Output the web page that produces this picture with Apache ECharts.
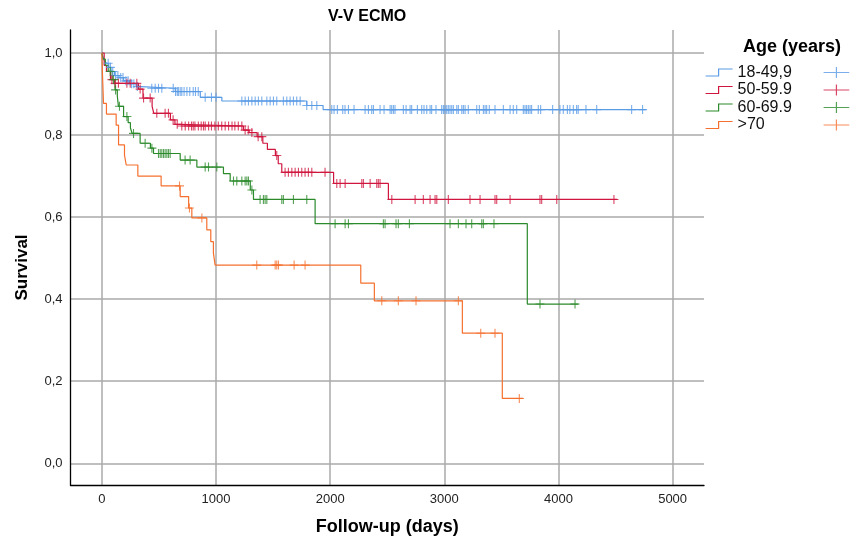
<!DOCTYPE html>
<html>
<head>
<meta charset="utf-8">
<script src="https://cdn.jsdelivr.net/npm/echarts@6/dist/echarts.min.js"></script>
<style>
	html, body { margin: 0; padding: 0; background: #fff; }
	#survivalChart { width: 851px; height: 541px; }
</style>
</head>
<body>
<div id="survivalChart"></div>
<script>
// groups and colours
const groups = ['18-49,9', '50-59.9', '60-69.9', '>70'];
const colors = ['#5a9be6', '#d0163f', '#2b8a2b', '#f5702f'];

const xTicks = [0, 1000, 2000, 3000, 4000, 5000];
const yTicks = [0, 0.2, 0.4, 0.6, 0.8, 1.0];

// 18-49,9  (event times in days, survival after the event)
const age18Times = [0, 10, 25, 40, 60, 80, 110, 150, 190, 240, 300, 340, 643, 862, 1051, 1795, 1938];
const age18Surv = [1, 0.99, 0.98, 0.975, 0.965, 0.955, 0.945, 0.94, 0.932, 0.925, 0.918, 0.914, 0.906, 0.892, 0.883, 0.872, 0.862];
const age18End = 4765;
const age18Censored = [55, 75, 95, 120, 140, 165, 185, 210, 230, 260, 280, 310, 437, 467, 496, 525, 625, 645, 660, 670,
	686, 700, 720, 745, 770, 800, 820, 844, 905, 960, 1000, 1226, 1255, 1284, 1314, 1343, 1371, 1401, 1445, 1474,
	1503, 1532, 1590, 1620, 1649, 1678, 1707, 1737, 1795, 1839, 1883, 2014, 2034, 2063, 2110, 2130, 2160, 2209, 2306, 2335,
	2364, 2379, 2437, 2472, 2525, 2539, 2554, 2568, 2641, 2665, 2700, 2714, 2764, 2802, 2822, 2846, 2875, 2889, 2927, 2977,
	2992, 3006, 3021, 3035, 3050, 3065, 3079, 3109, 3123, 3153, 3167, 3182, 3210, 3284, 3307, 3342, 3357, 3371, 3394, 3444,
	3517, 3576, 3604, 3634, 3692, 3707, 3721, 3736, 3751, 3765, 3823, 3844, 3949, 4013, 4042, 4078, 4100, 4130, 4159, 4173,
	4241, 4335, 4641, 4737];

// 50-59.9
const age50Times = [0, 20, 40, 75, 110, 320, 360, 440, 455, 600, 640, 680, 1240, 1290, 1360, 1410, 1450, 1520, 1545, 1576, 2030, 2510];
const age50Surv = [1, 0.97, 0.955, 0.935, 0.926, 0.912, 0.89, 0.87, 0.853, 0.837, 0.826, 0.822, 0.812, 0.806, 0.796, 0.78, 0.765, 0.75, 0.73, 0.709, 0.682, 0.643];
const age50End = 4515;
const age50Censored = [88, 116, 145, 219, 248, 306, 335, 365, 423, 481, 554, 583, 624, 660, 700, 730, 760, 785, 800, 815,
	845, 870, 890, 905, 935, 960, 990, 1020, 1050, 1080, 1110, 1140, 1165, 1195, 1226, 1255, 1282, 1314, 1369, 1401,
	1532, 1605, 1634, 1664, 1693, 1722, 1751, 1780, 1809, 1839, 1955, 2058, 2087, 2131, 2277, 2291, 2350, 2408, 2422, 2437,
	2540, 2744, 2816, 2875, 2919, 2934, 3035, 3225, 3313, 3444, 3459, 3576, 3838, 3853, 3985, 4486];

// 60-69.9
const age60Times = [0, 10, 30, 55, 90, 115, 135, 145, 190, 230, 250, 265, 335, 425, 452, 686, 832, 1065, 1124, 1300, 1328, 1868, 3727];
const age60Surv = [1, 0.985, 0.97, 0.955, 0.935, 0.91, 0.895, 0.87, 0.845, 0.83, 0.817, 0.804, 0.78, 0.768, 0.755, 0.739, 0.722, 0.706, 0.688, 0.666, 0.643, 0.584, 0.388];
const age60End = 4175;
const age60Censored = [73, 102, 120, 154, 219, 277, 379, 438, 496, 511, 525, 540, 554, 569, 583, 598, 729, 773, 905, 934,
	1007, 1153, 1182, 1226, 1255, 1270, 1284, 1314, 1386, 1415, 1430, 1445, 1576, 1590, 1678, 1795, 2043, 2131, 2160, 2466,
	2481, 2577, 2597, 2694, 3050, 3123, 3190, 3240, 3328, 3342, 3435, 3838, 4145];

// >70
const age70Times = [0, 5, 10, 14, 40, 125, 146, 198, 213, 315, 519, 686, 760, 788, 919, 954, 977, 992, 2268, 2387, 3158, 3508];
const age70Surv = [1, 0.95, 0.91, 0.877, 0.851, 0.824, 0.776, 0.751, 0.727, 0.70, 0.676, 0.65, 0.622, 0.598, 0.569, 0.54, 0.512, 0.483, 0.439, 0.396, 0.317, 0.158];
const age70End = 3692;
const age70Censored = [680, 767, 876, 1357, 1518, 1532, 1547, 1684, 1780, 2452, 2597, 2752, 3123, 3319, 3444, 3657];

const curves = [
	[age18Times, age18Surv, age18End, age18Censored],
	[age50Times, age50Surv, age50End, age50Censored],
	[age60Times, age60Surv, age60End, age60Censored],
	[age70Times, age70Surv, age70End, age70Censored]
];

const font = '"Liberation Sans", Arial, sans-serif';
const stepIcon = 'path://M0,7L13,7L13,0L27,0L13,0L13,7Z';
const censorIcon = 'path://M0,6L28,6M14,0L14,12';
const censorSymbol = 'path://M0,5L10,5M5,0L5,10';

function stepLine (times, surv, end) {
	const pts = times.map((t, i) => [t, surv[i]]);
	pts.push([end, surv[surv.length - 1]]);
	return pts;
}

// survival level of the curve at a censoring time
function survAt (times, surv, t) {
	let s = surv[0];
	for (let i = 0; i < times.length; i++) {
		if (times[i] <= t) s = surv[i];
	}
	return s;
}

const series = [];
groups.forEach((g, i) => {
	const [times, surv, end, cens] = curves[i];
	series.push({
		name: g,
		type: 'line',
		step: 'end',
		symbol: 'none',
		silent: true,
		z: 2,
		lineStyle: { color: colors[i], width: 1.2 },
		itemStyle: { color: colors[i] },
		data: stepLine(times, surv, end)
	});
	series.push({
		name: g + ' censored',
		type: 'scatter',
		symbol: censorSymbol,
		symbolSize: [9, 9],
		silent: true,
		z: 3,
		itemStyle: { color: colors[i], borderColor: colors[i], borderWidth: 1.1 },
		data: cens.map(t => [t, survAt(times, surv, t)])
	});
});

const myChart = echarts.init(document.getElementById('survivalChart'));
const option = {
	animation: false,
	backgroundColor: '#fff',
	textStyle: { fontFamily: font },
	title: [
		{ text: 'V-V ECMO', left: 328, top: 9, padding: 0,
			textStyle: { fontFamily: font, fontSize: 16, fontWeight: 'bold', color: '#000' } },
		{ text: 'Age (years)', left: 743, top: 38, padding: 0,
			textStyle: { fontFamily: font, fontSize: 18, fontWeight: 'bold', color: '#000' } }
	],
	legend: [
		{
			orient: 'vertical', left: 705, top: 64, padding: 0,
			itemWidth: 27, itemHeight: 7, itemGap: 0.5,
			selectedMode: false,
			textStyle: { fontFamily: font, fontSize: 16, lineHeight: 17, color: '#111' },
			data: groups.map((g, i) => ({
				name: g, icon: stepIcon,
				itemStyle: { color: 'rgba(0,0,0,0)', borderColor: colors[i], borderWidth: 1.2 }
			}))
		},
		{
			orient: 'vertical', left: 823, top: 64, padding: 0,
			itemWidth: 28, itemHeight: 11, itemGap: 0.5,
			selectedMode: false,
			formatter: () => ' ',
			textStyle: { fontFamily: font, fontSize: 16, lineHeight: 17 },
			data: groups.map((g, i) => ({
				name: g + ' censored', icon: censorIcon,
				itemStyle: { color: colors[i], borderColor: colors[i], borderWidth: 1.2 }
			}))
		}
	],
	grid: { left: 70.5, right: 147, top: 30, bottom: 56, containLabel: false, outerBoundsMode: 'none' },
	xAxis: {
		type: 'value', min: -275, max: 5275,
		name: 'Follow-up (days)', nameLocation: 'middle', nameGap: 33,
		nameTextStyle: { fontFamily: font, fontSize: 18, fontWeight: 'bold', color: '#000' },
		axisLine: { show: true, onZero: false, lineStyle: { color: '#000', width: 1.3 } },
		axisTick: { show: false, customValues: xTicks },
		axisLabel: { customValues: xTicks, margin: 8, fontSize: 13, color: '#222', formatter: v => String(v) },
		splitLine: { show: true, lineStyle: { color: '#aaaaaa', width: 1.5 } }
	},
	yAxis: {
		type: 'value', min: -0.053, max: 1.056,
		name: 'Survival', nameLocation: 'middle', nameGap: 40, nameRotate: 90,
		nameTextStyle: { fontFamily: font, fontSize: 17, fontWeight: 'bold', color: '#000', padding: [0, 20, 0, 0] },
		axisLine: { show: true, onZero: false, lineStyle: { color: '#000', width: 1.3 } },
		axisTick: { show: false, customValues: yTicks },
		axisLabel: {
			customValues: yTicks, margin: 8, fontSize: 13, color: '#222',
			formatter: v => v.toFixed(1).replace('.', ',')
		},
		splitLine: { show: true, lineStyle: { color: '#aaaaaa', width: 1.5 } }
	},
	series: series
};
myChart.setOption(option);
</script>
</body>
</html>
